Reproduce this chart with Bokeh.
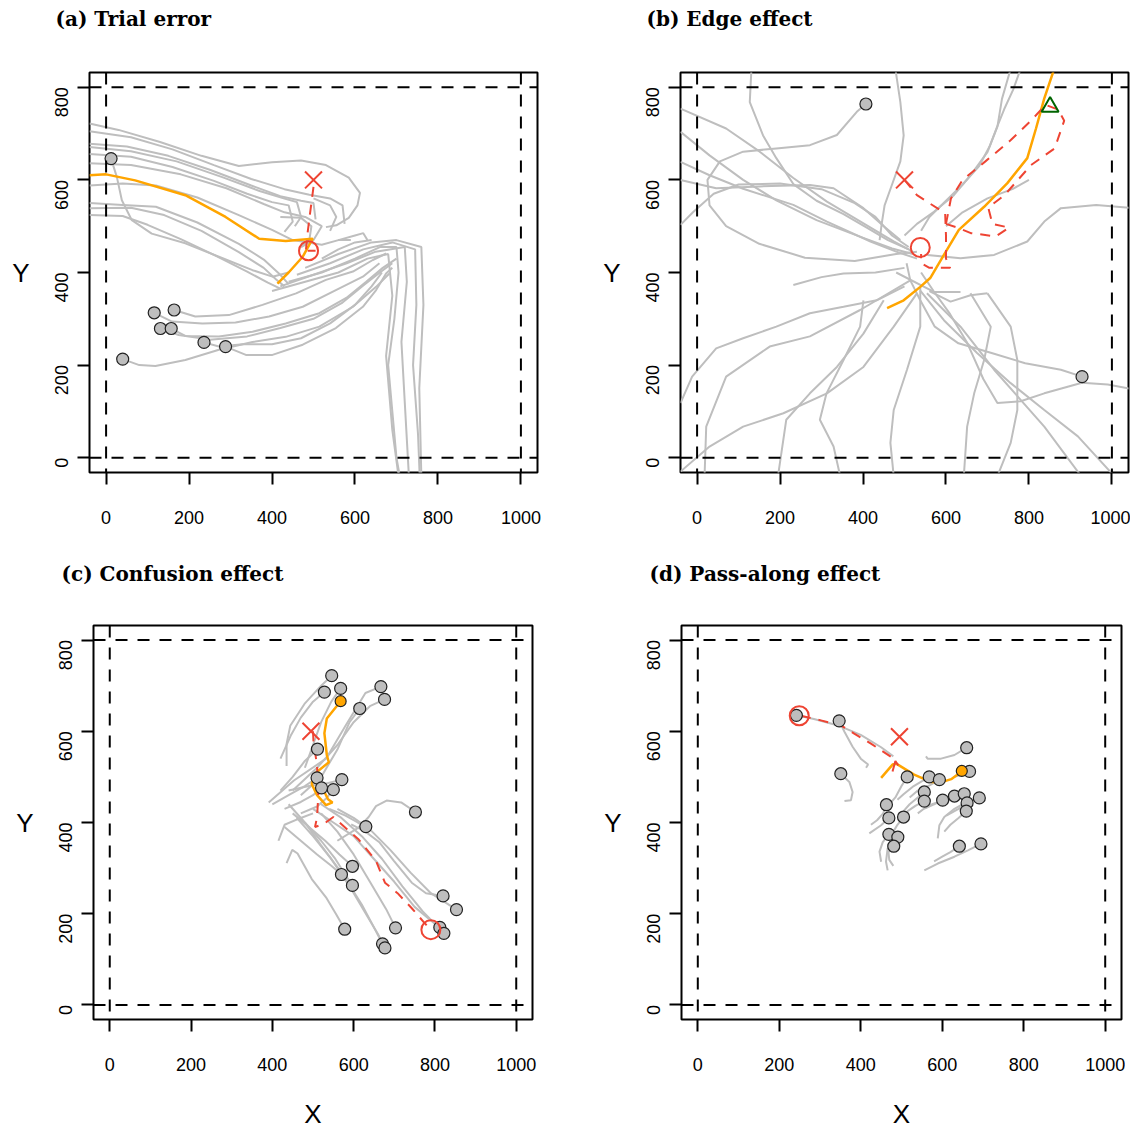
import math
from bokeh.plotting import figure
from bokeh.models import Range1d, Span, Title, FixedTicker
from bokeh.layouts import column, row
from bokeh.embed import file_html
from bokeh.resources import INLINE

GRAY = "#BEBEBE"
ORANGE = "#FFA500"
RED = "#EE4433"
GREEN = "#006400"

X_TICKS = [0, 200, 400, 600, 800, 1000]
Y_TICKS = [0, 200, 400, 600, 800]

# ---------------- panel (a) Trial error ----------------
a_tracks = [
    [(-40, 722), (30, 708), (130, 682), (230, 652), (320, 630), (400, 638), (470, 642), (530, 632), (585, 605), (612, 572), (606, 545), (585, 518), (555, 502), (530, 498)],
    [(-40, 705), (60, 692), (160, 666), (260, 632), (350, 602), (430, 580), (490, 568), (540, 560), (570, 545), (575, 505)],
    [(-40, 678), (50, 672), (150, 652), (250, 622), (350, 588), (420, 565), (470, 555), (500, 550), (505, 515)],
    [(-40, 671), (60, 662), (170, 640), (280, 606), (370, 576), (430, 560), (460, 552), (470, 520), (455, 500)],
    [(-40, 656), (60, 650), (160, 628), (260, 598), (340, 570), (400, 552), (440, 545), (450, 510), (430, 488)],
    [(-40, 636), (60, 632), (180, 612), (290, 582), (380, 548), (430, 530), (480, 520), (520, 500), (500, 470), (470, 455)],
    [(-40, 588), (40, 592), (120, 588), (220, 562), (320, 524), (400, 492), (450, 470), (520, 460), (560, 470), (590, 470)],
    [(-40, 550), (40, 546), (120, 542), (220, 508), (320, 462), (380, 428), (420, 395), (440, 375)],
    [(-40, 539), (60, 540), (140, 524), (230, 490), (320, 444), (380, 410), (410, 385), (430, 370)],
    [(-40, 524), (40, 522), (100, 503), (180, 472), (260, 438), (340, 402), (390, 378), (420, 365)],
    [(420, 520), (470, 518), (495, 500), (490, 470), (470, 455)],
    [(500, 560), (540, 545), (555, 520), (540, 490)],
    [(560, 470), (600, 480), (620, 485), (630, 470)],
    [(520, 430), (560, 450), (600, 465), (640, 470)],
    [(440, 380), (520, 400), (600, 430), (660, 455), (700, 455), (705, 400), (695, 300), (680, 200), (690, 100), (700, 0), (708, -40)],
    [(420, 370), (500, 395), (580, 420), (650, 445), (720, 455), (725, 380), (712, 250), (720, 120), (730, -40)],
    [(460, 395), (540, 420), (620, 450), (690, 465), (745, 450), (748, 330), (740, 200), (752, 50), (756, -40)],
    [(480, 410), (560, 440), (640, 465), (700, 470), (760, 455), (765, 330), (755, 150), (760, -40)],
    [(400, 360), (480, 380), (560, 400), (630, 430), (680, 440), (690, 350), (675, 220), (690, 60), (705, -40)],
    [(683, 398), (651, 369), (595, 326), (514, 283), (433, 261), (353, 250), (272, 233), (191, 211), (119, 198), (80, 200), (40, 213)],
    [(690, 410), (675, 398), (651, 362), (619, 326), (554, 280), (474, 244), (401, 222), (337, 222), (288, 240)],
    [(665, 400), (640, 370), (600, 330), (540, 290), (470, 258), (400, 245), (330, 245), (272, 240), (236, 249)],
    [(700, 430), (667, 410), (627, 380), (579, 345), (514, 312), (433, 290), (353, 272), (272, 262), (191, 263), (157, 279)],
    [(690, 420), (660, 400), (620, 372), (570, 335), (500, 300), (420, 280), (340, 262), (250, 255), (175, 265), (131, 279)],
    [(675, 441), (643, 427), (595, 402), (530, 384), (458, 355), (377, 330), (296, 308), (215, 305), (164, 319)],
    [(659, 420), (619, 391), (554, 362), (474, 326), (393, 305), (312, 292), (232, 290), (159, 294), (116, 313)],
    [(440, 400), (401, 391), (353, 405), (272, 434), (191, 463), (110, 484), (62, 513), (38, 556), (26, 606), (12, 646)],
]
a_orange = [
    [(-40, 610), (0, 612), (70, 599), (191, 567), (288, 520), (369, 473), (433, 468), (498, 473), (474, 434), (440, 400), (413, 376)],
]
a_red = [
    [(500, 585), (492, 530), (485, 480), (482, 450)],
]
a_red_solid = [[(486, 447), (505, 447)]]
a_dots_x = [12, 116, 164, 131, 157, 236, 288, 40]
a_dots_y = [646, 313, 319, 279, 279, 249, 240, 213]
a_cross = [(500, 600)]
a_circle = [(488, 447)]

# ---------------- panel (b) Edge effect ----------------
b_tracks = [
    [(131, 840), (127, 768), (159, 696), (191, 647), (232, 591), (288, 555), (353, 526), (409, 497), (460, 470), (510, 450)],
    [(478, 840), (490, 768), (498, 696), (490, 640), (470, 590), (452, 545), (445, 505), (440, 470)],
    [(756, 840), (735, 775), (724, 715), (700, 660), (659, 610), (619, 567), (571, 531), (530, 505), (500, 480)],
    [(780, 840), (762, 795), (740, 752), (722, 712), (705, 672), (680, 630), (640, 590), (600, 555), (560, 520), (540, 490)],
    [(407, 764), (385, 747), (337, 697), (272, 675), (191, 668), (111, 661), (55, 640), (25, 600), (30, 545), (70, 500), (150, 462), (260, 432), (380, 425), (480, 440), (530, 445)],
    [(-40, 754), (70, 711), (151, 661), (232, 604), (313, 553), (394, 510), (474, 467), (520, 445)],
    [(-40, 704), (30, 653), (111, 600), (191, 556), (288, 513), (394, 477), (470, 452), (520, 440)],
    [(-40, 639), (30, 610), (111, 581), (232, 546), (313, 510), (418, 467), (480, 445), (530, 430)],
    [(-40, 600), (46, 582), (151, 586), (272, 589), (329, 582), (401, 539), (450, 500), (490, 470)],
    [(-40, 503), (-10, 530), (40, 570), (100, 590), (200, 592), (300, 580), (380, 550), (430, 520), (470, 480), (510, 455)],
    [(1050, 539), (962, 546), (877, 539), (837, 510), (796, 467), (716, 438), (635, 431), (555, 438)],
    [(928, 175), (877, 190), (791, 204), (710, 226), (630, 247), (573, 283), (538, 340), (514, 383), (505, 420)],
    [(1050, 148), (990, 158), (928, 162), (837, 139), (780, 122), (724, 118), (690, 170), (650, 250), (610, 310), (570, 360), (540, 400)],
    [(538, 361), (595, 297), (675, 226), (756, 161), (837, 103), (918, 46), (1006, -40)],
    [(554, 355), (635, 283), (716, 190), (780, 125), (837, 67), (926, -40)],
    [(700, 355), (756, 283), (772, 211), (772, 103), (756, 32), (724, -40)],
    [(659, 355), (708, 283), (692, 211), (668, 139), (651, 67), (643, -40)],
    [(538, 369), (538, 283), (506, 190), (474, 103), (466, 32), (474, -40)],
    [(401, 340), (393, 283), (353, 211), (312, 139), (296, 82), (329, 24), (345, -40)],
    [(450, 340), (401, 268), (337, 196), (272, 139), (215, 82), (195, -40)],
    [(514, 383), (393, 319), (272, 262), (175, 240), (70, 175), (22, 67), (18, -40)],
    [(-40, 118), (-12, 175), (46, 236), (111, 258), (191, 283), (272, 312), (353, 326), (433, 340), (500, 370)],
    [(-40, -30), (30, 24), (111, 67), (208, 96), (313, 139), (401, 196), (474, 283), (530, 355)],
    [(232, 373), (300, 390), (353, 398), (430, 400), (500, 410)],
    [(480, 400), (571, 358), (635, 358)],
    [(560, 360), (611, 337), (659, 351), (700, 355)],
    [(600, 500), (640, 530), (700, 560), (760, 580), (800, 600)],
]
b_orange = [
    [(861, 840), (837, 776), (817, 711), (796, 647), (748, 593), (692, 542), (631, 492), (595, 438), (562, 388), (538, 369), (498, 340), (458, 323)],
]
b_red = [
    [(500, 600), (530, 567), (598, 528), (600, 480), (600, 430), (610, 410), (560, 410), (540, 420), (540, 440)],
    [(600, 505), (612, 560), (640, 600), (695, 640), (755, 685), (805, 728), (840, 762), (870, 752), (885, 728), (862, 668), (805, 632), (742, 568), (702, 540), (712, 505), (752, 497), (720, 478), (660, 485), (628, 497), (600, 505)],
]
b_red_solid = []
b_dots_x = [407, 928]
b_dots_y = [764, 175]
b_cross = [(500, 600)]
b_circle = [(538, 454)]
b_triangle = [(851, 758)]

# ---------------- panel (c) Confusion effect ----------------
c_tracks = [
    [(435, 524), (435, 572), (444, 612), (479, 660), (520, 700), (546, 722)],
    [(420, 540), (445, 590), (470, 630), (500, 665), (528, 686)],
    [(480, 520), (500, 570), (520, 620), (545, 665), (568, 694)],
    [(391, 444), (453, 492), (532, 540), (580, 612), (629, 684), (667, 698)],
    [(450, 470), (510, 520), (560, 570), (600, 620), (640, 655), (676, 670)],
    [(470, 460), (520, 500), (560, 560), (590, 620), (615, 650)],
    [(420, 470), (450, 500), (480, 535), (511, 561)],
    [(400, 440), (440, 460), (480, 480), (510, 498)],
    [(430, 430), (470, 445), (500, 460), (521, 476)],
    [(470, 420), (510, 435), (535, 455), (550, 472)],
    [(440, 470), (490, 480), (530, 485), (571, 494)],
    [(560, 360), (611, 388), (637, 412), (655, 436), (681, 448), (717, 444), (752, 423)],
    [(540, 430), (580, 415), (610, 400), (630, 391)],
    [(450, 420), (490, 390), (530, 360), (565, 330), (597, 304)],
    [(430, 390), (470, 360), (510, 330), (545, 305), (570, 286)],
    [(480, 400), (520, 360), (555, 320), (580, 285), (597, 262)],
    [(594, 396), (629, 380), (664, 356), (699, 316), (743, 268), (778, 245), (820, 239)],
    [(560, 430), (600, 410), (640, 385), (690, 340), (740, 290), (790, 245), (853, 209)],
    [(435, 311), (449, 340), (462, 332), (497, 276), (532, 236), (558, 197), (578, 166)],
    [(520, 420), (560, 380), (600, 330), (640, 270), (680, 210), (703, 169)],
    [(440, 440), (480, 400), (520, 350), (570, 290), (620, 220), (650, 170), (671, 134)],
    [(460, 410), (500, 370), (545, 320), (590, 260), (630, 200), (660, 155), (677, 125)],
    [(500, 430), (550, 400), (600, 370), (650, 320), (700, 270), (750, 215), (790, 185), (812, 170)],
    [(520, 440), (570, 410), (620, 370), (670, 320), (720, 260), (770, 205), (822, 157)],
    [(415, 360), (430, 395), (470, 410), (500, 420)],
]
c_orange = [
    [(568, 666), (534, 628), (528, 596), (534, 548), (539, 532), (504, 507), (497, 484), (510, 460), (532, 438), (548, 444), (537, 451), (514, 492)],
]
c_red = [
    [(500, 600), (501, 580), (510, 524), (513, 460), (510, 412), (505, 390), (528, 398), (550, 412), (611, 364), (655, 316), (677, 268), (708, 245), (743, 212), (774, 180), (790, 165)],
]
c_red_solid = []
c_dots_x = [546, 528, 568, 667, 676, 615, 511, 510, 521, 550, 571, 752, 630, 597, 570, 597, 820, 853, 578, 703, 671, 677, 812, 822]
c_dots_y = [722, 686, 694, 698, 670, 650, 561, 498, 476, 472, 494, 423, 391, 304, 286, 262, 239, 209, 166, 169, 134, 125, 170, 157]
c_orange_dot = [(568, 666)]
c_cross = [(495, 600)]
c_circle = [(790, 165)]

# ---------------- panel (d) Pass-along effect ----------------
d_tracks = [
    [(480, 545), (450, 565), (400, 592), (347, 612), (285, 627), (242, 635)],
    [(413, 520), (418, 527), (400, 540), (380, 566), (360, 599), (347, 623)],
    [(360, 447), (376, 449), (380, 467), (372, 489), (351, 507)],
    [(560, 545), (564, 540), (597, 540), (630, 548), (660, 564)],
    [(470, 440), (485, 455), (500, 480), (514, 500)],
    [(490, 450), (505, 462), (530, 480), (568, 500)],
    [(520, 455), (540, 470), (570, 482), (593, 494)],
    [(630, 500), (650, 505), (667, 512)],
    [(505, 425), (520, 440), (540, 455), (556, 467)],
    [(500, 410), (515, 425), (535, 437), (556, 447)],
    [(540, 420), (555, 430), (580, 440), (601, 449)],
    [(560, 432), (575, 440), (600, 448), (630, 458)],
    [(605, 445), (630, 452), (654, 463)],
    [(589, 365), (593, 394), (605, 412), (630, 430), (660, 445), (691, 454)],
    [(610, 415), (640, 430), (661, 443)],
    [(605, 380), (620, 395), (640, 410), (659, 425)],
    [(425, 395), (440, 405), (455, 420), (463, 439)],
    [(421, 376), (450, 394), (469, 410)],
    [(475, 365), (480, 380), (490, 395), (505, 412)],
    [(450, 314), (446, 336), (454, 357), (469, 374)],
    [(466, 295), (462, 314), (466, 343), (491, 368)],
    [(480, 305), (470, 318), (468, 335), (481, 348)],
    [(580, 315), (600, 325), (620, 335), (642, 348)],
    [(556, 295), (589, 310), (630, 325), (663, 339), (695, 353)],
]
d_orange = [
    [(450, 498), (478, 527), (487, 529), (531, 505), (572, 489), (597, 488), (622, 495), (646, 511)],
]
d_red = [
    [(253, 634), (302, 624), (351, 613), (384, 595), (425, 573), (474, 544), (487, 533)],
]
d_red_solid = [[(478, 512), (485, 535), (492, 525)]]
d_dots_x = [242, 347, 660, 351, 514, 568, 593, 667, 556, 556, 601, 630, 654, 691, 661, 659, 463, 469, 505, 469, 491, 481, 642, 695]
d_dots_y = [635, 623, 564, 507, 500, 500, 494, 512, 467, 447, 449, 458, 463, 454, 443, 425, 439, 410, 412, 374, 368, 348, 348, 353]
d_orange_dot = [(648, 513)]
d_cross = [(495, 588)]
d_circle = [(249, 634)]


def xs_ys(paths):
    return [[p[0] for p in t] for t in paths], [[p[1] for p in t] for t in paths]


def make_panel(title, tracks, orange, red, red_solid, dots_x, dots_y, cross, circle,
               triangle=None, orange_dot=None, xlabel=False,
               fw=448, fh=400, bl=81, br=62, bt=64, bb=89, title_dx=34, spacer_so=14):
    p = figure(frame_width=fw, frame_height=fh, min_border_left=bl, min_border_right=br,
               min_border_top=bt, min_border_bottom=bb,
               x_range=Range1d(-40, 1040), y_range=Range1d(-32, 832),
               output_backend="svg", toolbar_location=None, title=None)
    # blank spacer title next to the frame, real title stacked above it
    p.add_layout(Title(text=" ", align="left", vertical_align="top",
                       text_font="DejaVu Serif", text_font_size="20px",
                       standoff=spacer_so), "above")
    p.add_layout(Title(text=title, align="left", offset=-title_dx, vertical_align="top",
                       text_font="DejaVu Serif", text_font_style="bold", text_color="black",
                       text_font_size="20px", standoff=0), "above")
    p.xgrid.visible = False
    p.ygrid.visible = False
    p.outline_line_color = "black"
    p.outline_line_width = 2
    p.outline_line_alpha = 1
    p.background_fill_color = "white"
    p.border_fill_color = "white"
    for ax, ticks in ((p.xaxis, X_TICKS), (p.yaxis, Y_TICKS)):
        ax.ticker = FixedTicker(ticks=ticks)
        ax.axis_line_color = None
        ax.major_tick_out = 12
        ax.major_tick_in = 0
        ax.major_tick_line_width = 2
        ax.major_tick_line_color = "black"
        ax.minor_tick_out = 0
        ax.minor_tick_in = 0
        ax.major_label_text_font = "Liberation Sans"
        ax.major_label_text_font_size = "18px"
        ax.major_label_text_color = "black"
    p.xaxis.major_label_standoff = 26
    p.yaxis.major_label_standoff = 16
    p.yaxis.major_label_orientation = math.pi / 2
    p.yaxis.axis_label = "Y"
    p.yaxis.axis_label_orientation = "horizontal"
    p.yaxis.axis_label_text_font = "Liberation Sans"
    p.yaxis.axis_label_text_font_style = "normal"
    p.yaxis.axis_label_text_color = "black"
    p.yaxis.axis_label_text_font_size = "26px"
    p.yaxis.axis_label_standoff = 16
    if xlabel:
        p.xaxis.axis_label = "X"
        p.xaxis.axis_label_text_font = "Liberation Sans"
        p.xaxis.axis_label_text_font_style = "normal"
        p.xaxis.axis_label_text_color = "black"
        p.xaxis.axis_label_text_font_size = "26px"
        p.xaxis.axis_label_standoff = 25

    for loc in (0, 1000):
        p.add_layout(Span(location=loc, dimension="height", line_color="black", line_width=2, line_dash="12 10"))
    for loc in (0, 800):
        p.add_layout(Span(location=loc, dimension="width", line_color="black", line_width=2, line_dash="12 10"))

    gx, gy = xs_ys(tracks)
    p.multi_line(gx, gy, line_color=GRAY, line_width=2)
    ox, oy = xs_ys(orange)
    p.multi_line(ox, oy, line_color=ORANGE, line_width=2.5)
    if red:
        rx, ry = xs_ys(red)
        p.multi_line(rx, ry, line_color=RED, line_width=2, line_dash="10 8")
    if red_solid:
        sx, sy = xs_ys(red_solid)
        p.multi_line(sx, sy, line_color=RED, line_width=2)
    if dots_x:
        p.scatter(dots_x, dots_y, size=12, marker="circle", fill_color=GRAY,
                  line_color="#222222", line_width=1.2)
    if orange_dot:
        p.scatter([q[0] for q in orange_dot], [q[1] for q in orange_dot], size=11,
                  marker="circle", fill_color=ORANGE, line_color="#222222", line_width=1.2)
    p.scatter([q[0] for q in cross], [q[1] for q in cross], marker="x", size=24,
              line_color=RED, line_width=2)
    p.scatter([q[0] for q in circle], [q[1] for q in circle], marker="circle", size=19,
              fill_color=None, line_color=RED, line_width=2)
    if triangle:
        p.scatter([q[0] for q in triangle], [q[1] for q in triangle], marker="triangle",
                  size=17, fill_color=None, line_color=GREEN, line_width=2)
    return p


pa = make_panel("(a) Trial error", a_tracks, a_orange, a_red, a_red_solid, a_dots_x, a_dots_y,
                a_cross, a_circle, fw=448, fh=400, bl=89, br=62, bt=72, bb=89,
                title_dx=34, spacer_so=14)
pb = make_panel("(b) Edge effect", b_tracks, b_orange, b_red, b_red_solid, b_dots_x, b_dots_y,
                b_cross, b_circle, triangle=b_triangle, fw=448, fh=400, bl=81, br=2, bt=72, bb=89,
                title_dx=34, spacer_so=14)
pc = make_panel("(c) Confusion effect", c_tracks, c_orange, c_red, c_red_solid, c_dots_x, c_dots_y,
                c_cross, c_circle, orange_dot=c_orange_dot, xlabel=True,
                fw=439, fh=394, bl=93, br=64, bt=64, bb=108, title_dx=32, spacer_so=12)
pd = make_panel("(d) Pass-along effect", d_tracks, d_orange, d_red, d_red_solid, d_dots_x, d_dots_y,
                d_cross, d_circle, orange_dot=d_orange_dot, xlabel=True,
                fw=440, fh=394, bl=85, br=4, bt=64, bb=108, title_dx=32, spacer_so=12)

layout = column(row(pa, pb), row(pc, pd))
open("out.html", "w").write(file_html(layout, INLINE))
